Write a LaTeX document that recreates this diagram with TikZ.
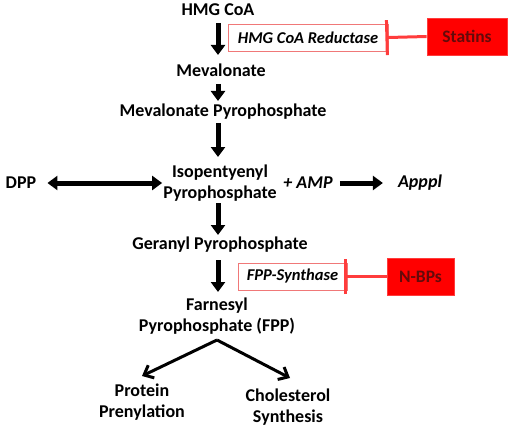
\documentclass[tikz,border=0pt]{standalone}
\usepackage{fontspec}
\setmainfont{Carlito}
\usepackage{tikz}
\usetikzlibrary{arrows.meta,calc}
\usepackage{xcolor}
\definecolor{drug}{RGB}{255,0,0}
\definecolor{drugtext}{RGB}{100,10,10}
\definecolor{inhib}{RGB}{255,60,60}
\definecolor{enzline}{RGB}{240,120,120}

\begin{document}
\begin{tikzpicture}[x=1pt, y=-1pt,
 every text node part/.style={align=center},
 every node/.style={font=\fontsize{18}{21}\selectfont\bfseries, inner sep=2pt},
metab/.style={rectangle, inner sep=3pt},
enzyme/.style={rectangle, draw=enzline, thick, font=\fontsize{16.5}{19}\selectfont\bfseries\itshape},
drugbox/.style={rectangle, draw=inhib, fill=drug, thick, text=drugtext, font=\fontsize{17.5}{20}\selectfont\bfseries},
bigarrow/.style={-{Triangle[width=14pt,length=10pt]}, line width=5pt},
bigboth/.style={{Triangle[width=14pt,length=10pt]}-{Triangle[width=14pt,length=10pt]}, line width=5pt},
branch/.style={-{Straight Barb[width=14pt,length=8pt]}, line width=3pt},
block/.style={-{Bar[width=35pt]}, line width=3pt, draw=inhib}]

	\useasboundingbox (0,0) rectangle (512,428);

	\node[metab] (hmg) at (218, 10) {HMG CoA};
	\node[metab] (meva) at (221, 70) {Mevalonate};
	\node[metab] (mevapp) at (223, 112) {Mevalonate Pyrophosphate};
	\node[metab] (ipp) at (220, 183) {Isopentyenyl\\Pyrophosphate};
	\node[metab] (dpp) at (21, 183) {DPP};
	\node[metab, font=\fontsize{18}{21}\selectfont\bfseries\itshape] (amp) at (308, 183) {+ AMP};
	\node[metab, font=\fontsize{18}{21}\selectfont\bfseries\itshape] (apppl) at (420, 183) {Apppl};
	\node[metab] (gpp) at (220, 245) {Geranyl Pyrophosphate};
	\node[metab] (fpp) at (217, 316) {Farnesyl\\Pyrophosphate (FPP)};
	\node[metab] (prot) at (142, 402) {Protein\\Prenylation};
	\node[metab] (chol) at (288, 407) {Cholesterol\\Synthesis};

	\node[enzyme, minimum width=160pt, minimum height=27pt] (hmgr) at (308, 37.5) {HMG CoA Reductase};
	\node[drugbox, minimum width=80pt, minimum height=37pt] (statins) at (467, 36.5) {Statins};
	\node[enzyme, minimum width=109pt, minimum height=27pt] (fpps) at (292.5, 276.5) {FPP-Synthase};
	\node[drugbox, minimum width=67pt, minimum height=37pt] (nbps) at (420.5, 276.5) {N-BPs};

	\coordinate (a1) at (218, 23);
	\coordinate (a2) at (218, 55);
	\draw[bigarrow] (a1) -- (a2);
	\draw[bigarrow] (218, 84) -- (218, 101);
	\draw[bigarrow] (218, 123) -- (218, 157);
	\draw[bigarrow] (218, 203) -- (218, 235);
	\draw[bigarrow] (218, 260) -- (218, 292);

	\draw[bigboth] ($(dpp.east) + (8, 0)$) -- ($(ipp.west) + (2, 0)$);
	\draw[bigarrow] ($(amp.east) + (4, 0)$) -- ($(apppl.west) + (-12, 0)$);

	\draw[branch] (217, 340) -- (142, 376);
	\draw[branch] (217, 340) -- (290, 378);

	\draw[block, shorten >=-3pt] (statins.west) -- (hmgr.east);
	\draw[block, shorten >=-3pt] (nbps.west) -- (fpps.east);
\end{tikzpicture}
\end{document}
